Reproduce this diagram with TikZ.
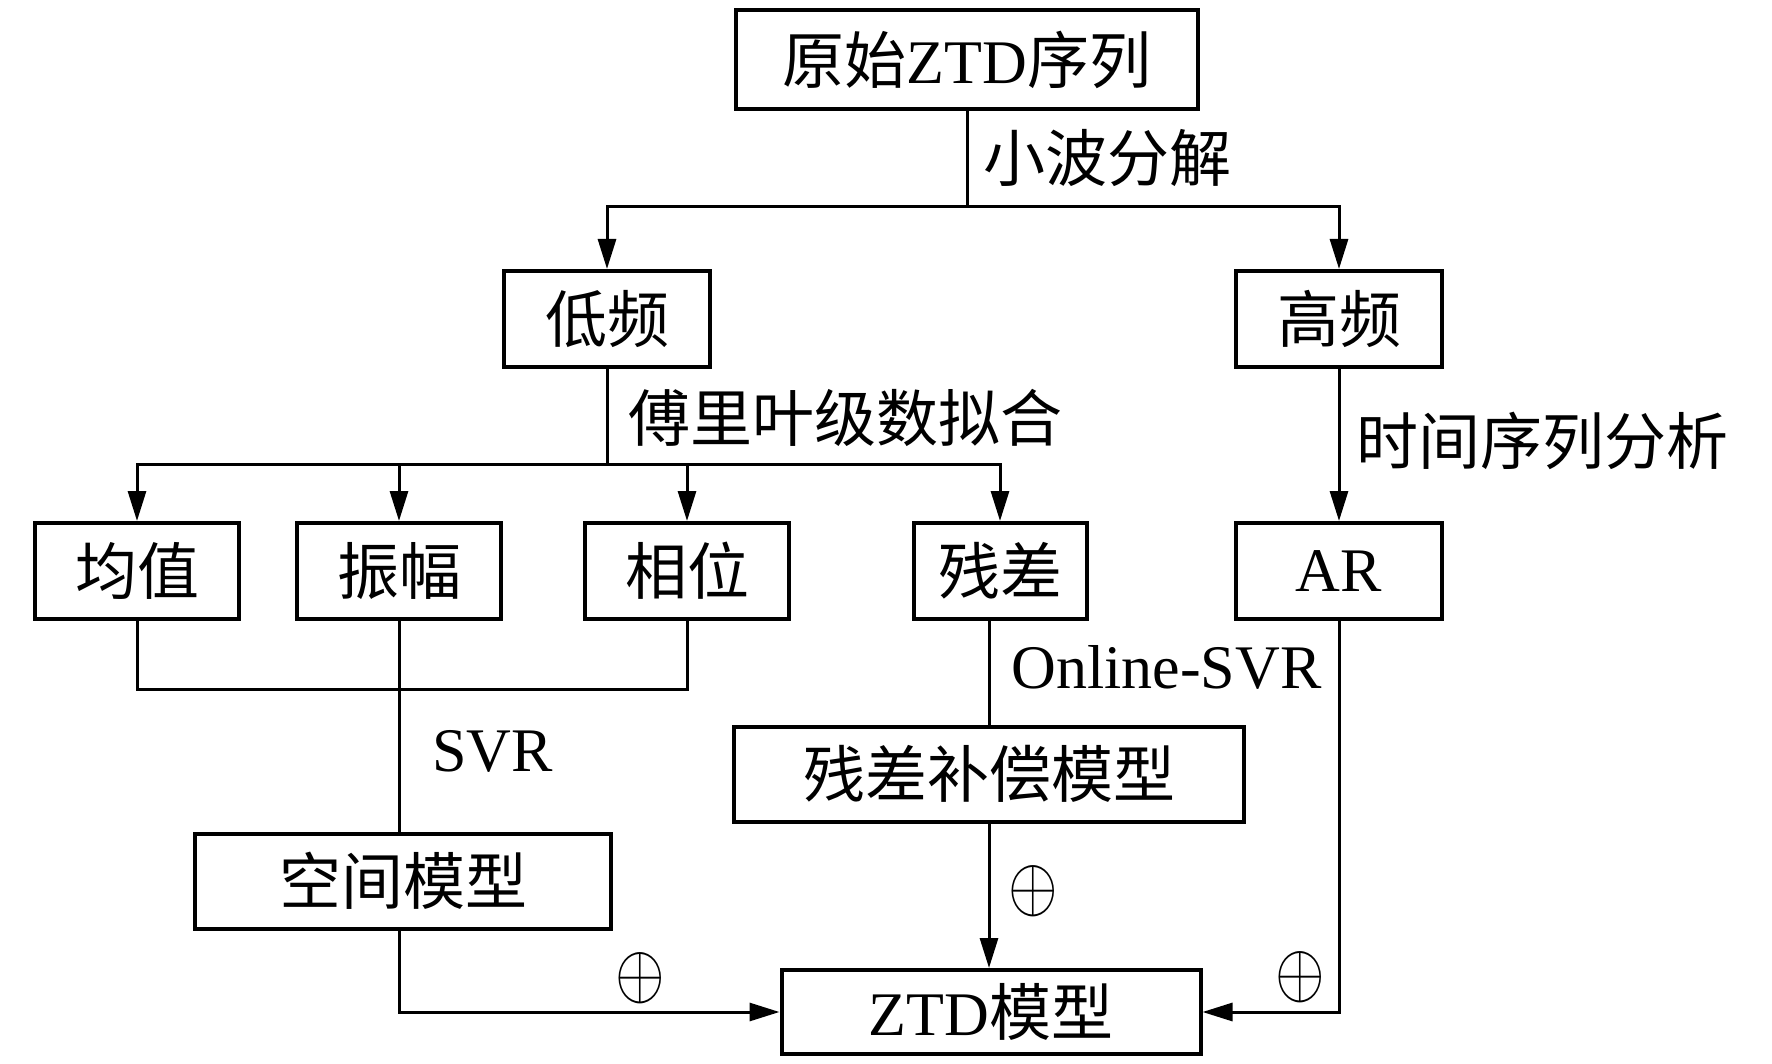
\documentclass[tikz,border=0pt]{standalone}
\usepackage{fontspec}
\setmainfont{Liberation Serif}
\newfontfamily\cjk{Noto Sans CJK SC}
\usetikzlibrary{arrows.meta}
\begin{document}
\begin{tikzpicture}[x=0.5pt,y=-0.5pt,
  every node/.style={font=\fontsize{31}{36}\selectfont},
  box/.style={draw, line width=2pt, inner sep=0pt, minimum height=48pt},
  conn/.style={line width=1.5pt},
  arr/.style={line width=1.5pt, -{Triangle[length=15pt,width=9pt]}},
  lbl/.style={anchor=west, inner sep=0pt},
  plus/.style={inner sep=0pt}]
\useasboundingbox (0,0) rectangle (1772,1064);
% boxes
\node[box, minimum width=231pt, minimum height=49.5pt] (orig) at (967,60) {{\cjk 原始}ZTD{\cjk 序列}};
\node[box, minimum width=103pt] (low) at (607,319) {\cjk 低频};
\node[box, minimum width=103pt] (high) at (1339,319) {\cjk 高频};
\node[box, minimum width=102pt] (mean) at (137,571) {\cjk 均值};
\node[box, minimum width=102pt] (amp) at (399,571) {\cjk 振幅};
\node[box, minimum width=102pt] (phase) at (687,571) {\cjk 相位};
\node[box, minimum width=86.5pt] (resid) at (1000,571) {\cjk 残差};
\node[box, minimum width=103pt] (ar) at (1339,571) {AR};
\node[box, minimum width=255pt, minimum height=47.5pt] (comp) at (989,774) {\cjk 残差补偿模型};
\node[box, minimum width=208pt, minimum height=47.5pt] (space) at (403,881) {\cjk 空间模型};
\node[box, minimum width=209.5pt, minimum height=42pt] (ztd) at (991,1012) {ZTD{\cjk 模型}};
% labels
\node[lbl] (l1) at (983,158) {\cjk 小波分解};
\node[lbl] (l2) at (628,418) {\cjk 傅里叶级数拟合};
\node[lbl] (l3) at (1356,441) {\cjk 时间序列分析};
\node[lbl] (l4) at (1011,667) {Online-SVR};
\node[lbl] (l5) at (432,751) {SVR};
\node[plus] (p1) at (1033,891) {\scalebox{1.28}[1.55]{$\oplus$}};
\node[plus] (p2) at (640,978) {\scalebox{1.28}[1.55]{$\oplus$}};
\node[plus] (p3) at (1300,977) {\scalebox{1.28}[1.55]{$\oplus$}};
% connectors
\coordinate (s1) at (967,207);
\draw[conn] (orig.south) -- (s1);
\draw[arr] (s1) -| (low.north);
\draw[arr] (s1) -| (high.north);
\coordinate (s2) at (607,464);
\draw[conn] (low.south) -- (s2);
\draw[arr] (s2) -| (mean.north);
\draw[arr] (s2) -| (amp.north);
\draw[arr] (s2) -| (phase.north);
\draw[arr] (s2) -| (resid.north);
\draw[arr] (high.south) -- (ar.north);
\coordinate (j1) at (399,689);
\draw[conn] (mean.south) |- (j1) -| (phase.south);
\draw[conn] (amp.south) -- (amp.south |- space.north);
\draw[conn] (resid.south -| comp.north) -- (comp.north);
\draw[arr] (comp.south) -- (comp.south |- ztd.north);
\draw[arr] (space.south -| amp.south) |- (ztd.west);
\draw[arr] (ar.south) |- (ztd.east);
\end{tikzpicture}
\end{document}
